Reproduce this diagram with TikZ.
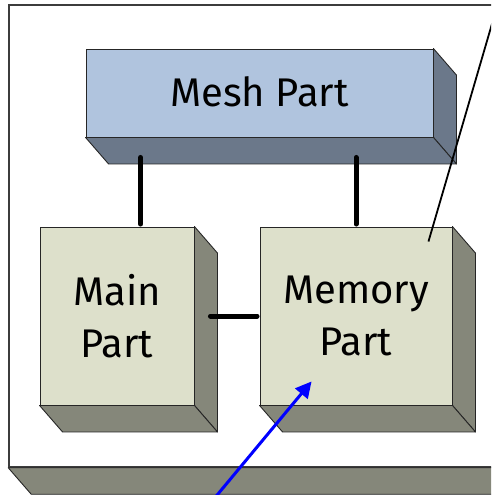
\documentclass[tikz,border=0pt]{standalone}
\usepackage{fontspec}
\setmainfont{Fira Sans}
\usetikzlibrary{calc,arrows.meta}

\definecolor{meshfront}{RGB}{176,196,222}
\definecolor{meshside}{RGB}{107,120,138}
\definecolor{partfront}{RGB}{221,224,203}
\definecolor{partside}{RGB}{133,135,122}
\definecolor{boardline}{RGB}{60,60,60}

\tikzset{
  face/.style={draw=black!85, line width=0.9pt, line join=round},
  front/.style={face, inner sep=0pt, align=center, anchor=center,
                font=\fontsize{40}{52}\selectfont},
  partbox/.style={front, fill=partfront},
  link/.style={line width=5pt, line cap=round},
  pointer/.style={line width=1.8pt},
  callout/.style={draw=blue, line width=3pt, -{Triangle[length=16pt,width=16pt]}},
}

% right and bottom faces of a box whose front is the node #1
\newcommand{\drawdepth}[2]{%
  \draw[face, fill=#2] (#1.north east) -- ++(23,26.5)
    -- ($(#1.south east)+(23,26.5)$) -- (#1.south east) -- cycle;
  \draw[face, fill=#2] (#1.south west) -- ++(23,26.5)
    -- ($(#1.south east)+(23,26.5)$) -- (#1.south east) -- cycle;
}

\begin{document}
\begin{tikzpicture}[x=1pt, y=-1pt]
\useasboundingbox (0,0) rectangle (491,495);
\clip (0,0) rectangle (491,495);

% board
\node[draw=boardline, line width=1.5pt, fill=white, inner sep=0pt,
      minimum width=511pt, minimum height=462pt] (board) at (264.5,236) {};
\drawdepth{board}{partside}

% mesh part
\node[front, fill=meshfront, minimum width=347pt, minimum height=88pt,
      text depth=2pt] (mesh) at (259.5,93) {Mesh Part};
\drawdepth{mesh}{meshside}

% main and memory parts
\node[partbox, minimum width=154pt, minimum height=178pt] (main) at (117,316) {Main\\Part};
\drawdepth{main}{partside}
\node[partbox, minimum width=192pt, minimum height=178pt] (memory) at (356,316) {Memory\\Part};
\drawdepth{memory}{partside}

% links between the parts
\coordinate (tapA) at ($(mesh.south west)+(55,20)$);
\draw[link, shorten >=2.5pt] (tapA) -- (tapA |- main.north);
\draw[link, shorten >=2.5pt] (memory.north |- tapA) -- (memory.north);
\draw[link, shorten >=2.5pt] ($(main.east)+(16,0)$) -- (memory.west);

% pointers
\coordinate (leadTop) at (500.4,-5);
\coordinate (leadEnd) at ($(memory.north east)+(-24,15)$);
\draw[pointer] (leadTop) -- (leadEnd);
\coordinate (arrowFoot) at (213,500);
\coordinate (arrowTip) at ($(memory.south west)+(52,-24)$);
\draw[callout] (arrowFoot) -- (arrowTip);
\end{tikzpicture}
\end{document}
